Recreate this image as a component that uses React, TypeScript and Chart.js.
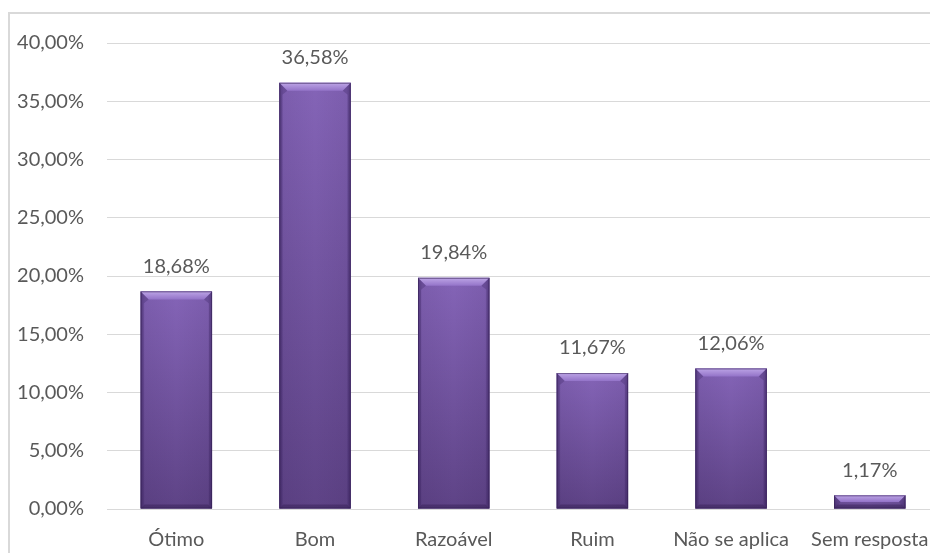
import React, { useEffect, useRef } from "react";
import { Chart, registerables } from "chart.js";

Chart.register(...registerables);

const categories = ["Ótimo", "Bom", "Razoável", "Ruim", "Não se aplica", "Sem resposta"];
const values = [18.68, 36.58, 19.84, 11.67, 12.06, 1.17];
const yMin = 0;
const yMax = 40;
const yStep = 5;

const FONT_FAMILY = "Lato, 'Open Sans', sans-serif";
const FONT_SIZE = 20;
const TEXT_COLOR = "#595959";
const GRID_COLOR = "#d9d9d9";

const fmt = (v: number) => v.toFixed(2).replace(".", ",") + "%";

const framePlugin = {
  id: "frame",
  beforeDraw(chart: any) {
    const ctx = chart.ctx;
    ctx.save();
    ctx.strokeStyle = GRID_COLOR;
    ctx.lineWidth = 2;
    ctx.beginPath();
    ctx.moveTo(1, chart.height + 10);
    ctx.lineTo(1, 5);
    ctx.lineTo(chart.width + 10, 5);
    ctx.stroke();
    ctx.restore();
  },
};

const bevelPlugin = {
  id: "bevel",
  afterDatasetsDraw(chart: any) {
    const ctx = chart.ctx;
    const meta = chart.getDatasetMeta(0);
    ctx.save();
    meta.data.forEach((bar: any, i: number) => {
      const { x, y, base, width } = bar.getProps(["x", "y", "base", "width"], true);
      const l = x - width / 2;
      const r = x + width / 2;
      const t = Math.min(y, base);
      const b = Math.max(y, base);
      const h = b - t;
      if (h <= 0) return;
      // body
      const g = ctx.createLinearGradient(0, t, 0, b);
      g.addColorStop(0, "#8464b7");
      g.addColorStop(1, "#5e4386");
      ctx.fillStyle = g;
      ctx.fillRect(l, t, width, h);
      // side shading
      const gs = ctx.createLinearGradient(l, 0, r, 0);
      gs.addColorStop(0, "rgba(40,20,70,0.35)");
      gs.addColorStop(0.06, "rgba(40,20,70,0.08)");
      gs.addColorStop(0.5, "rgba(40,20,70,0)");
      gs.addColorStop(0.94, "rgba(40,20,70,0.08)");
      gs.addColorStop(1, "rgba(40,20,70,0.35)");
      ctx.fillStyle = gs;
      ctx.fillRect(l, t, width, h);
      // top bevel
      const bv = Math.min(8, h / 2);
      const gt = ctx.createLinearGradient(0, t, 0, t + bv);
      gt.addColorStop(0, "#bda5e6");
      gt.addColorStop(1, "#9373c8");
      ctx.fillStyle = gt;
      ctx.beginPath();
      ctx.moveTo(l, t);
      ctx.lineTo(r, t);
      ctx.lineTo(r - bv, t + bv);
      ctx.lineTo(l + bv, t + bv);
      ctx.closePath();
      ctx.fill();
      // side edges (darker)
      ctx.fillStyle = "rgba(60,35,100,0.3)";
      ctx.beginPath();
      ctx.moveTo(l, t);
      ctx.lineTo(l + bv, t + bv);
      ctx.lineTo(l + 3, t + bv + 4);
      ctx.lineTo(l + 3, b - 3);
      ctx.lineTo(l, b);
      ctx.closePath();
      ctx.fill();
      ctx.beginPath();
      ctx.moveTo(r, t);
      ctx.lineTo(r - bv, t + bv);
      ctx.lineTo(r - 3, t + bv + 4);
      ctx.lineTo(r - 3, b - 3);
      ctx.lineTo(r, b);
      ctx.closePath();
      ctx.fill();
      // bottom bevel
      const bb = Math.min(4, h / 3);
      ctx.fillStyle = "rgba(40,20,70,0.35)";
      ctx.beginPath();
      ctx.moveTo(l, b);
      ctx.lineTo(r, b);
      ctx.lineTo(r - bb, b - bb);
      ctx.lineTo(l + bb, b - bb);
      ctx.closePath();
      ctx.fill();
      // outline
      ctx.strokeStyle = "rgba(50,30,80,0.55)";
      ctx.lineWidth = 1;
      ctx.strokeRect(l + 0.5, t + 0.5, width - 1, h - 1);
      // value label
      ctx.fillStyle = TEXT_COLOR;
      ctx.font = `${FONT_SIZE}px ${FONT_FAMILY}`;
      ctx.textAlign = "center";
      ctx.textBaseline = "middle";
      ctx.fillText(fmt(values[i]), x, t - 25);
    });
    ctx.restore();
  },
};

export default function App() {
  const ref = useRef<HTMLCanvasElement | null>(null);
  useEffect(() => {
    if (!ref.current) return;
    const chart = new Chart(ref.current, {
      type: "bar",
      data: {
        labels: categories,
        datasets: [
          {
            data: values,
            backgroundColor: "#6f519c",
            borderWidth: 0,
            barPercentage: 0.515,
            categoryPercentage: 1,
          },
        ],
      },
      options: {
        responsive: false,
        animation: false,
        devicePixelRatio: 1,
        layout: { padding: { top: 35, right: 7, left: 0, bottom: 0 } },
        plugins: {
          legend: { display: false },
          tooltip: { enabled: false },
        },
        scales: {
          x: {
            grid: { display: false, drawTicks: false },
            border: { display: true, color: GRID_COLOR, width: 1 },
            ticks: {
              color: TEXT_COLOR,
              font: { family: FONT_FAMILY, size: FONT_SIZE },
              padding: 19,
              maxRotation: 0,
              autoSkip: false,
            },
            afterFit: (s: any) => {
              s.height = 59;
            },
          },
          y: {
            min: yMin,
            max: yMax,
            grid: { color: GRID_COLOR, drawTicks: false, lineWidth: 1 },
            border: { display: false },
            ticks: {
              stepSize: yStep,
              color: TEXT_COLOR,
              font: { family: FONT_FAMILY, size: FONT_SIZE },
              padding: 23,
              callback: (v: any) => fmt(Number(v)),
            },
            afterFit: (s: any) => {
              s.width = 99;
            },
          },
        },
      },
      plugins: [framePlugin, bevelPlugin],
    });
    return () => chart.destroy();
  }, []);
  return (
    <div style={{ width: 930, height: 545, overflow: "hidden", position: "relative" }}>
      <canvas ref={ref} width={940} height={560} style={{ display: "block" }} />
    </div>
  );
}
